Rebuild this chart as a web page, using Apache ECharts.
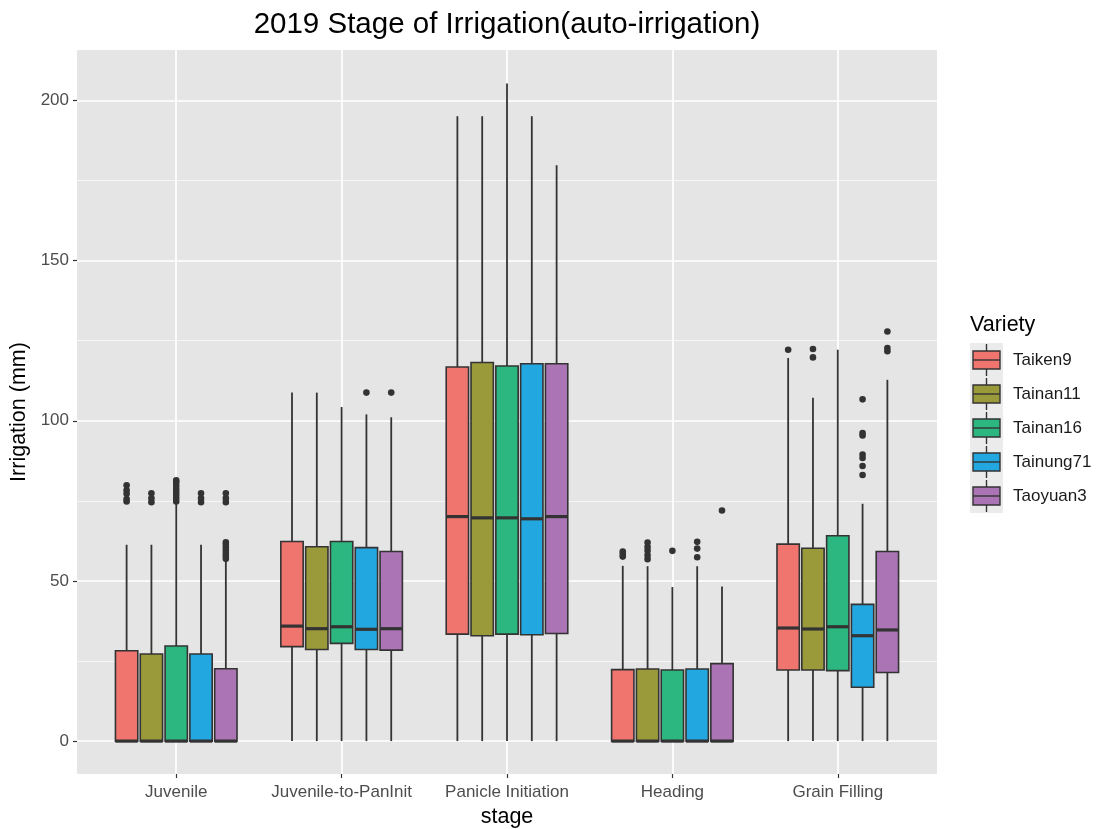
<!DOCTYPE html>
<html>
<head>
<meta charset="utf-8">
<script src="https://cdn.jsdelivr.net/npm/echarts@6/dist/echarts.min.js"></script>
<style>
  html, body { margin: 0; padding: 0; background: #ffffff; }
  #chart { width: 1100px; height: 829px; }
</style>
</head>
<body>
<div id="chart"></div>
<script>
// Growth stages along the x axis and the rice varieties compared in each stage
const stages = ['Juvenile', 'Juvenile-to-PanInit', 'Panicle Initiation', 'Heading', 'Grain Filling'];
const varieties = ['Taiken9', 'Tainan11', 'Tainan16', 'Tainung71', 'Taoyuan3'];
const varietyColors = ['#F0756F', '#9A9A3A', '#2CB680', '#22A7E0', '#AB74B5'];

const yMajorTicks = [0, 50, 100, 150, 200];
const yMinorTicks = [25, 75, 125, 175];

// Per stage: [lower whisker, Q1, median, Q3, upper whisker] of irrigation (mm)
const taiken9Stats = [
  [0, 0, 0, 28.2, 61.3],
  [0, 29.5, 35.9, 62.3, 108.8],
  [0, 33.4, 70.1, 116.8, 195.1],
  [0, 0, 0, 22.3, 54.7],
  [0, 22.2, 35.3, 61.5, 119.6]
];
const tainan11Stats = [
  [0, 0, 0, 27.2, 61.3],
  [0, 28.6, 35.1, 60.7, 108.8],
  [0, 32.9, 69.7, 118.2, 195.1],
  [0, 0, 0, 22.5, 54.6],
  [0, 22.2, 35.0, 60.2, 107.2]
];
const tainan16Stats = [
  [0, 0, 0, 29.7, 74.0],
  [0, 30.5, 35.7, 62.3, 104.3],
  [0, 33.4, 69.7, 117.1, 205.3],
  [0, 0, 0, 22.2, 48.1],
  [0, 22.0, 35.7, 64.1, 122.2]
];
const tainung71Stats = [
  [0, 0, 0, 27.2, 61.3],
  [0, 28.6, 34.9, 60.4, 102.0],
  [0, 33.2, 69.4, 117.8, 195.1],
  [0, 0, 0, 22.5, 54.6],
  [0, 16.8, 32.9, 42.7, 74.1]
];
const taoyuan3Stats = [
  [0, 0, 0, 22.6, 56.6],
  [0, 28.4, 35.1, 59.2, 101.1],
  [0, 33.6, 70.1, 117.8, 179.8],
  [0, 0, 0, 24.2, 48.3],
  [0, 21.4, 34.7, 59.2, 112.8]
];

// Outlying observations as [stage index, irrigation (mm)]
const taiken9Outliers = [
  [0, 74.8], [0, 75.6], [0, 77.2], [0, 78.3], [0, 79.9],
  [3, 57.6], [3, 58.4], [3, 59.2],
  [4, 122.2]
];
const tainan11Outliers = [
  [0, 74.6], [0, 75.8], [0, 77.4],
  [3, 56.8], [3, 58.0], [3, 59.4], [3, 60.6], [3, 62.0],
  [4, 119.8], [4, 122.4]
];
const tainan16Outliers = [
  [0, 74.8], [0, 75.8], [0, 76.8], [0, 77.8], [0, 78.8], [0, 79.8], [0, 80.8], [0, 81.4],
  [3, 59.4]
];
const tainung71Outliers = [
  [0, 74.6], [0, 75.8], [0, 77.4],
  [1, 108.8],
  [3, 57.4], [3, 60.1], [3, 62.2],
  [4, 83.1], [4, 85.9], [4, 88.4], [4, 89.5], [4, 95.4], [4, 96.2], [4, 106.7]
];
const taoyuan3Outliers = [
  [0, 56.9], [0, 57.8], [0, 58.6], [0, 59.5], [0, 60.4], [0, 61.3], [0, 62.1],
  [0, 74.6], [0, 75.8], [0, 77.4],
  [1, 108.8],
  [3, 72.0],
  [4, 121.7], [4, 122.7], [4, 127.9]
];

const statsByVariety = [taiken9Stats, tainan11Stats, tainan16Stats, tainung71Stats, taoyuan3Stats];
const outliersByVariety = [taiken9Outliers, tainan11Outliers, tainan16Outliers, tainung71Outliers, taoyuan3Outliers];

const FONT = "'Liberation Sans', Arial, sans-serif";
const INK = '#333333';

// Boxes are dodged inside each stage: 0.75 of a stage unit shared by the varieties
const DODGE_WIDTH = 0.75;
const slot = DODGE_WIDTH / varieties.length;
const boxWidth = slot * 0.9;
const offsetOf = k => (k - (varieties.length - 1) / 2) * slot;

function boxRenderer(k) {
  return function (params, api) {
    const xc = api.value(0) + offsetOf(k);
    const low = api.coord([xc, api.value(1)]);
    const q1 = api.coord([xc, api.value(2)]);
    const med = api.coord([xc, api.value(3)]);
    const q3 = api.coord([xc, api.value(4)]);
    const high = api.coord([xc, api.value(5)]);
    const left = api.coord([xc - boxWidth / 2, 0])[0];
    const right = api.coord([xc + boxWidth / 2, 0])[0];
    const whisker = { stroke: INK, lineWidth: 1.8 };
    return {
      type: 'group',
      children: [
        { type: 'line', shape: { x1: high[0], y1: high[1], x2: q3[0], y2: q3[1] }, style: whisker },
        { type: 'line', shape: { x1: q1[0], y1: q1[1], x2: low[0], y2: low[1] }, style: whisker },
        {
          type: 'rect',
          shape: { x: left, y: q3[1], width: right - left, height: q1[1] - q3[1] },
          style: { fill: varietyColors[k], stroke: INK, lineWidth: 1.6 }
        },
        { type: 'line', shape: { x1: left, y1: med[1], x2: right, y2: med[1] }, style: { stroke: INK, lineWidth: 3.2 } }
      ]
    };
  };
}

function outlierRenderer(k) {
  return function (params, api) {
    const p = api.coord([api.value(0) + offsetOf(k), api.value(1)]);
    return { type: 'circle', shape: { cx: p[0], cy: p[1], r: 3.3 }, style: { fill: INK } };
  };
}

const series = [];
varieties.forEach((name, k) => {
  series.push({
    type: 'custom',
    name: name,
    dimensions: ['stage', 'low', 'q1', 'median', 'q3', 'high'],
    encode: { x: 0, y: [1, 2, 3, 4, 5] },
    data: statsByVariety[k].map((s, i) => [i].concat(s)),
    renderItem: boxRenderer(k),
    silent: true
  });
  series.push({
    type: 'custom',
    name: name + ' (outliers)',
    encode: { x: 0, y: 1 },
    data: outliersByVariety[k],
    renderItem: outlierRenderer(k),
    silent: true
  });
});

// Legend: keys drawn as small boxplots on a light grey key background
const legendX = 970;
const keyTop = 343;
const keyW = 33;
const keyH = 34;
const legendGraphics = [
  {
    type: 'text', x: legendX, y: 325,
    style: { text: 'Variety', font: '21.5px ' + FONT, fill: '#000000', verticalAlign: 'middle' }
  },
  {
    type: 'rect', shape: { x: legendX, y: keyTop, width: keyW, height: keyH * varieties.length },
    style: { fill: '#EBEBEB' }
  }
];
varieties.forEach((name, k) => {
  const cy = keyTop + keyH * (k + 0.5);
  const cx = legendX + keyW / 2;
  legendGraphics.push(
    { type: 'line', shape: { x1: cx, y1: cy - keyH / 2 + 1, x2: cx, y2: cy + keyH / 2 - 1 }, style: { stroke: INK, lineWidth: 1.4 } },
    { type: 'rect', shape: { x: legendX + 3, y: cy - 9, width: keyW - 6, height: 18 }, style: { fill: varietyColors[k], stroke: INK, lineWidth: 1.4 } },
    { type: 'line', shape: { x1: legendX + 3, y1: cy, x2: legendX + keyW - 3, y2: cy }, style: { stroke: INK, lineWidth: 1.4 } },
    { type: 'text', x: legendX + 43, y: cy, style: { text: name, font: '17px ' + FONT, fill: '#1A1A1A', verticalAlign: 'middle' } }
  );
});

const option = {
  animation: false,
  backgroundColor: '#ffffff',
  textStyle: { fontFamily: FONT },
  grid: {
    left: 77, right: 163, top: 50, bottom: 55,
    outerBoundsMode: 'none',
    containLabel: false,
    show: true, backgroundColor: '#E5E5E5', borderWidth: 0
  },
  xAxis: {
    type: 'value',
    min: -0.6, max: 4.6,
    name: 'stage',
    nameLocation: 'middle',
    nameGap: 32,
    nameTextStyle: { fontSize: 21.5, color: '#000000', fontFamily: FONT },
    axisLine: { show: false, onZero: false },
    axisTick: { show: true, length: 4, customValues: [0, 1, 2, 3, 4], lineStyle: { color: INK, width: 1.2 } },
    axisLabel: {
      customValues: [0, 1, 2, 3, 4],
      formatter: v => stages[Math.round(v)],
      fontSize: 17, color: '#4D4D4D', margin: 10, fontFamily: FONT
    },
    splitLine: { show: true, lineStyle: { color: '#ffffff', width: 1.7 } }
  },
  yAxis: [
    {
      type: 'value',
      min: -10.275, max: 215.775,
      name: 'Irrigation (mm)',
      nameLocation: 'middle',
      nameGap: 41,
      nameTextStyle: { fontSize: 21.5, color: '#000000', fontFamily: FONT },
      axisLine: { show: false, onZero: false },
      axisTick: { show: true, length: 4, customValues: yMajorTicks, lineStyle: { color: INK, width: 1.2 } },
      axisLabel: { customValues: yMajorTicks, fontSize: 17, color: '#4D4D4D', margin: 8, fontFamily: FONT },
      splitLine: { show: true, lineStyle: { color: '#ffffff', width: 1.7 } }
    },
    {
      type: 'value',
      position: 'left',
      min: -10.275, max: 215.775,
      axisLine: { show: false, onZero: false },
      axisTick: { show: false, customValues: yMinorTicks },
      axisLabel: { show: false, customValues: yMinorTicks },
      splitLine: { show: true, lineStyle: { color: '#F7F7F7', width: 0.9 } }
    }
  ],
  graphic: [
    {
      type: 'text', x: 507, y: 25,
      style: {
        text: '2019 Stage of Irrigation(auto-irrigation)',
        font: '29.5px ' + FONT, fill: '#000000', align: 'center', verticalAlign: 'middle'
      }
    }
  ].concat(legendGraphics),
  series: series
};

const chart = echarts.init(document.getElementById('chart'), null, { renderer: 'canvas' });
chart.setOption(option);
</script>
</body>
</html>
